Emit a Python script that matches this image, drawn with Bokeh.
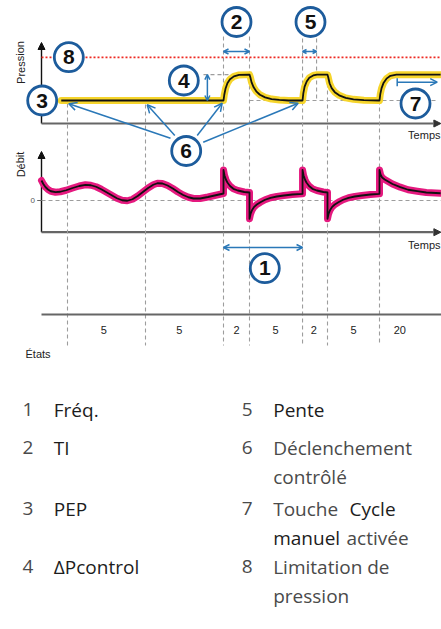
from bokeh.plotting import figure
from bokeh.models import Range1d, Arrow, OpenHead, NormalHead, TeeHead
from bokeh.core.properties import value
from bokeh.embed import file_html
from bokeh.resources import INLINE

# ---------------- data ----------------
STATE_LABELS = ["5", "5", "2", "5", "2", "5", "20"]
STATE_LABEL_T = [24.0, 53.0, 75.0, 90.0, 104.7, 120.0, 137.8]
EVENT_T = [10.0, 40.0, 70.0, 80.0, 100.4, 110.0, 130.0]
EVENT_TOP_PX = [103, 104, 36, 36, 38, 76, 100]
RAMP_END_T = 105.8          # end of the short rise (Pente)
T_END = 153.6

PEEP = 8.0
P_INSP = 17.0
P_LIMIT = 23.0

PRESSURE_T = [7.6, 70.0, 70.3, 70.8, 71.5, 72.5, 74.0, 76.0, 80.0,
              80.3, 80.8, 81.6, 82.6, 84.0, 86.0, 88.5, 91.5, 95.0,
              100.4, 100.7, 101.2, 102.0, 103.0, 104.5, 106.0, 110.0,
              110.3, 110.8, 111.6, 112.8, 114.5, 117.0, 120.0, 124.0,
              130.0, 130.3, 130.8, 131.6, 132.7, 134.2, 136.5, 139.0, 153.5]
PRESSURE_V = [8.0, 8.0, 10.0, 12.2, 14.0, 15.4, 16.4, 16.9, 17.0,
              16.2, 14.3, 12.6, 11.2, 10.0, 9.1, 8.5, 8.2, 8.0,
              8.0, 10.5, 12.8, 14.6, 15.9, 16.7, 17.0, 17.0,
              16.0, 14.0, 12.3, 10.9, 9.8, 8.9, 8.4, 8.1,
              8.0, 10.2, 12.3, 14.2, 15.6, 16.6, 17.0, 17.0, 17.0]

FLOW_T = [0.0, 0.7, 1.5, 2.5, 3.6, 5.4, 7.2, 9.5, 12.0, 14.5, 16.9, 19.0, 21.0, 23.0, 25.0,
          27.0, 29.0, 31.0, 33.0, 35.0, 37.0, 39.0, 41.0, 43.0, 44.6, 46.5, 48.5, 50.5,
          52.5, 54.5, 56.5, 58.5, 61.0, 64.0, 67.0, 70.0,
          70.0, 70.4, 71.0, 71.5, 72.5, 73.8, 75.5, 78.0, 80.0,
          80.0, 80.4, 81.0, 81.7, 82.8, 84.2, 86.0, 88.1, 90.5, 93.2, 96.5, 100.4,
          100.4, 100.8, 101.4, 101.9, 102.9, 104.2, 105.9, 108.4, 110.0,
          110.0, 110.4, 111.0, 111.7, 112.8, 114.2, 116.0, 118.1, 120.5, 123.2, 126.5, 130.0,
          130.0, 130.4, 131.0, 132.0, 133.0, 135.0, 138.0, 141.0, 144.5, 148.0, 153.5]
FLOW_V = [40, 33, 27, 22, 18.5, 16.6, 17.5, 20.5, 25, 29, 31.4, 30.5, 27.5, 22.5, 16.5,
          10.5, 4.5, 0.5, -0.5, 2.5, 9, 17, 25, 31.5, 34.5, 34, 30, 24,
          17, 11, 6.5, 4, 4, 7, 10.5, 14,
          61, 50, 41, 36, 29, 23.4, 20, 17, 16,
          -36.6, -27, -19, -13.4, -8, -3.4, 1.5, 5.4, 8, 10, 12, 13.4,
          61, 50, 41, 36, 29, 23.4, 20, 17, 16,
          -36.6, -27, -19, -13.4, -8, -3.4, 1.5, 5.4, 8, 10, 12, 13.4,
          61, 52, 46, 42, 39, 33, 26.6, 21.5, 18.6, 16, 14.5]

CALLOUT_LABELS = ["1", "2", "3", "4", "5", "6", "7", "8"]
CALLOUT_X = [264.3, 236.0, 41.7, 183.3, 310.0, 185.7, 415.0, 68.3]
CALLOUT_Y = [267.7, 21.5, 100.0, 80.0, 21.5, 150.5, 103.0, 56.7]

TRIGGER_START_X = [170.0, 174.3, 196.7, 202.7]
TRIGGER_START_Y = [137.7, 135.0, 135.0, 141.7]
TRIGGER_END_X = [68.3, 146.7, 221.7, 297.7]
TRIGGER_END_Y = [103.3, 104.3, 102.7, 102.7]

LEGEND_LEFT_NUM = ["1", "2", "3", "4"]
LEGEND_RIGHT_NUM = ["5", "6", "7", "8"]
# pieces: (row, line, x_px, text, regular?)
LEGEND_PIECES = [
    (0, 0, 53.3, "Fréq.", True),
    (1, 0, 53.3, "TI", True),
    (2, 0, 53.3, "PEP", True),
    (3, 0, 53.3, "ΔPcontrol", True),
    (0, 0, 272.7, "Pente", True),
    (1, 0, 272.7, "Déclenchement", False),
    (1, 1, 272.7, "contrôlé", False),
    (2, 0, 272.7, "Touche", False),
    (2, 0, 349.0, "Cycle", True),
    (2, 1, 272.7, "manuel", True),
    (2, 1, 346.0, "activée", False),
    (3, 0, 272.7, "Limitation de", False),
    (3, 1, 272.7, "pression", False),
]

# ---------------- layout ----------------
PX_PER_T = 2.6
T0_PX = 41.0
P_PX = 2.875
P0_PY = 123.0
F_PX = 0.5
F0_PY = 200.0
W, H = 441, 629
ROW_Y = [409.0, 447.0, 508.0, 566.0]
LINE_STEP = 29.5

BLUE_RING = "#1d5c9c"
BLUE_ARROW = "#2a78b8"
DASH_GREY = "#9d9d9d"
AXIS_GREY = "#666666"
TEXT = "#222222"

p = figure(width=W, height=H, output_backend="svg",
           toolbar_location=None, x_axis_type=None, y_axis_type=None,
           x_range=Range1d(-T0_PX / PX_PER_T, (W - T0_PX) / PX_PER_T),
           y_range=Range1d(H, 0), min_border=0,
           outline_line_color=None, background_fill_color="white",
           border_fill_color="white")
p.extra_x_ranges = {"px": Range1d(0, W)}
p.extra_y_ranges = {
    "pres": Range1d((P0_PY - H) / P_PX, P0_PY / P_PX),
    "flow": Range1d((F0_PY - H) / F_PX, F0_PY / F_PX),
}

dash = dict(line_color=DASH_GREY, line_width=1.1, line_dash="4 3")

# vertical event lines
p.segment(x0=EVENT_T, y0=EVENT_TOP_PX, x1=EVENT_T, y1=[345] * len(EVENT_T), **dash)
p.segment(x0=[RAMP_END_T], y0=[38], x1=[RAMP_END_T], y1=[99], **dash)

# horizontal reference lines
p.segment(x0=[62.3], y0=[P_INSP], x1=[EVENT_T[3]], y1=[P_INSP], y_range_name="pres", **dash)
p.segment(x0=[EVENT_T[3]], y0=[PEEP], x1=[152.3], y1=[PEEP], y_range_name="pres", **dash)
p.segment(x0=[0], y0=[0], x1=[T_END], y1=[0], y_range_name="flow", **dash)

# pressure limitation
p.segment(x0=[0], y0=[P_LIMIT], x1=[T_END + 1], y1=[P_LIMIT], y_range_name="pres",
          line_color="#ee2a22", line_width=1.6, line_dash="2 2")

# axes
p_top = (P0_PY - 42) / P_PX
f_bot = (F0_PY - 231.7) / F_PX
f_top = (F0_PY - 151) / F_PX
p.add_layout(Arrow(x_start=0, y_start=0, x_end=0, y_end=p_top, y_range_name="pres",
                   line_color="#111", line_width=1.4, level="underlay",
                   end=NormalHead(size=7, fill_color="#111", line_color="#111")))
p.add_layout(Arrow(x_start=0, y_start=0, x_end=T_END, y_end=0, y_range_name="pres",
                   line_color=AXIS_GREY, line_width=2.2, level="underlay",
                   end=NormalHead(size=7, fill_color="#333", line_color="#333")))
p.add_layout(Arrow(x_start=0, y_start=f_bot, x_end=0, y_end=f_top, y_range_name="flow",
                   line_color="#111", line_width=1.4, level="underlay",
                   end=NormalHead(size=7, fill_color="#111", line_color="#111")))
p.add_layout(Arrow(x_start=0, y_start=f_bot, x_end=T_END, y_end=f_bot, y_range_name="flow",
                   line_color=AXIS_GREY, line_width=2.2, level="underlay",
                   end=NormalHead(size=7, fill_color="#333", line_color="#333")))
p.segment(x0=[0], y0=[314], x1=[T_END + 1], y1=[314], line_color=AXIS_GREY, line_width=2)
p.segment(x0=[36.7], y0=[0], x1=[41.7], y1=[0], x_range_name="px", y_range_name="flow",
          line_color=AXIS_GREY, line_width=1)

# curves
p.line(PRESSURE_T, PRESSURE_V, y_range_name="pres", line_color="#f6d52c", line_width=7,
       line_join="round", line_cap="round")
p.line(PRESSURE_T, PRESSURE_V, y_range_name="pres", line_color="#111", line_width=1.8,
       line_join="round")
p.line(FLOW_T, FLOW_V, y_range_name="flow", line_color="#e5197f", line_width=7,
       line_join="round", line_cap="round")
p.line(FLOW_T, FLOW_V, y_range_name="flow", line_color="#111", line_width=1.8,
       line_join="round")

# chart texts
font = value("Liberation Sans")
p.text(x=[20.0], y=[62.0], text=["Pression"], x_range_name="px", angle=1.5708,
       text_font=font, text_font_size="11px", text_color=TEXT,
       text_align="center", text_baseline="middle")
p.text(x=[20.0], y=[164.0], text=["Débit"], x_range_name="px", angle=1.5708,
       text_font=font, text_font_size="11px", text_color=TEXT,
       text_align="center", text_baseline="middle")
p.text(x=[440.0, 440.0], y=[134.5, 244.0], text=["Temps", "Temps"], x_range_name="px",
       text_font=font, text_font_size="11px", text_color=TEXT,
       text_align="right", text_baseline="middle")
p.text(x=[32.3], y=[0], text=["0"], x_range_name="px", y_range_name="flow",
       text_font=font, text_font_size="8px", text_color="#555",
       text_align="center", text_baseline="middle")
p.text(x=STATE_LABEL_T, y=[329] * len(STATE_LABELS), text=STATE_LABELS,
       text_font=font, text_font_size="11px", text_color=TEXT,
       text_align="center", text_baseline="middle")
p.text(x=[25.0], y=[353.0], text=["États"], x_range_name="px",
       text_font=font, text_font_size="11px", text_color=TEXT,
       text_align="left", text_baseline="middle")

# arrows
def blue_arrow(x0, y0, x1, y1, both=False, xr="px", yr="default", head=6, tee=False):
    kw = dict(x_start=x0, y_start=y0, x_end=x1, y_end=y1, line_color=BLUE_ARROW,
              line_width=1.5, end=OpenHead(size=head, line_color=BLUE_ARROW, line_width=1.5))
    if both:
        kw["start"] = OpenHead(size=head, line_color=BLUE_ARROW, line_width=1.5)
    elif tee:
        kw["start"] = TeeHead(size=8, line_color=BLUE_ARROW, line_width=1.5)
    else:
        kw["start"] = None
    if xr != "default":
        kw["x_range_name"] = xr
    if yr != "default":
        kw["y_range_name"] = yr
    p.add_layout(Arrow(**kw))

blue_arrow(EVENT_T[2], 51, EVENT_T[3], 51, both=True, xr="default", head=5)
blue_arrow(EVENT_T[4], 51, RAMP_END_T, 51, both=True, xr="default", head=4)
blue_arrow(EVENT_T[2], 247, EVENT_T[4], 247, both=True, xr="default", head=6)
blue_arrow(63.8, PEEP, 63.8, P_INSP, both=True, xr="default", yr="pres", head=5)
blue_arrow(396.7, 81.7, 436.7, 81.7, tee=True, head=7)
for xs, ys, xe, ye in zip(TRIGGER_START_X, TRIGGER_START_Y, TRIGGER_END_X, TRIGGER_END_Y):
    blue_arrow(xs, ys, xe, ye, head=8)

# callout circles
p.scatter(CALLOUT_X, CALLOUT_Y, x_range_name="px", marker="circle", size=29,
          fill_color="white", line_color=BLUE_RING, line_width=2.8)
p.text(CALLOUT_X, CALLOUT_Y, text=CALLOUT_LABELS, x_range_name="px",
       text_font=font, text_font_style="bold", text_font_size="21px", text_color="#111",
       text_align="center", text_baseline="middle")

# legend
lfont = value("Open Sans")
p.text(x=[27.5] * 4, y=ROW_Y, text=LEGEND_LEFT_NUM, x_range_name="px", text_font=lfont,
       text_font_size="19px", text_color="#4a4a4a", text_align="center", text_baseline="middle")
p.text(x=[246.7] * 4, y=ROW_Y, text=LEGEND_RIGHT_NUM, x_range_name="px", text_font=lfont,
       text_font_size="19px", text_color="#4a4a4a", text_align="center", text_baseline="middle")
for row, line, x, txt, regular in LEGEND_PIECES:
    p.text(x=[x], y=[ROW_Y[row] + line * LINE_STEP], text=[txt], x_range_name="px",
           text_font=lfont, text_font_size="19px",
           text_color="#1c1c1c" if regular else "#4a4a4a",
           text_align="left", text_baseline="middle")

open("out.html", "w").write(file_html(p, INLINE))
